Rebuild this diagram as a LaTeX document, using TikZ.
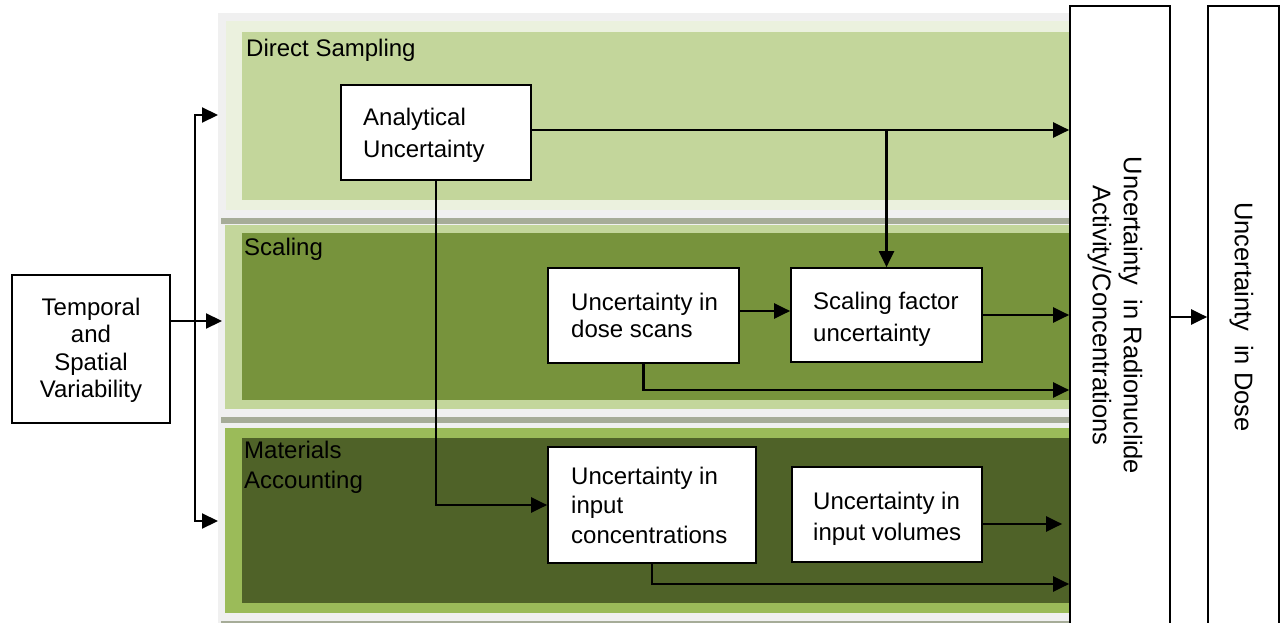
\documentclass[tikz,border=0pt]{standalone}
\usepackage{fontspec}
\setmainfont{Liberation Sans}
\usetikzlibrary{arrows.meta,calc}
\definecolor{bggray}{HTML}{F0F0F0}
\definecolor{dsband}{HTML}{EBF1DE}
\definecolor{dsin}{HTML}{C3D69B}
\definecolor{sepgray}{HTML}{A6AC98}
\definecolor{scband}{HTML}{C3D69B}
\definecolor{scin}{HTML}{77933C}
\definecolor{maband}{HTML}{9BBB59}
\definecolor{main}{HTML}{4F6228}
\begin{document}
\begin{tikzpicture}[x=1pt,y=-1pt,
  arr/.style={line width=2.2pt,-{Triangle[length=16pt,width=15pt]}},
  box/.style={draw=black,line width=1.7pt,fill=white,inner sep=0pt},
  txt/.style={inner sep=0pt,anchor=north west,align=left},
  rot/.style={inner sep=0pt,anchor=north,align=center,rotate=-90}]
\useasboundingbox (0,0) rectangle (1282,623);
% panels
\fill[bggray] (218,13) rectangle (1070,623);
\fill[dsband] (226,21) rectangle (1070,210);
\fill[dsin] (242,32) rectangle (1070,200);
\fill[sepgray] (221,218) rectangle (1070,224);
\fill[scband] (225,225) rectangle (1070,409);
\fill[scin] (242,233) rectangle (1070,400);
\fill[sepgray] (221,417) rectangle (1070,423);
\fill[maband] (225,428) rectangle (1070,613);
\fill[main] (242,438) rectangle (1070,603);
\fill[sepgray] (221,621) rectangle (1070,623);
% panel labels
\node[txt,font=\fontsize{24}{29}\selectfont] (lds) at (246,39) {Direct Sampling};
\node[txt,font=\fontsize{24}{29}\selectfont] (lsc) at (244,238) {Scaling};
\node[txt,font=\fontsize{24}{30}\selectfont] (lma) at (244,441) {Materials\\Accounting};
% boxes
\node[box,minimum width=158pt,minimum height=148pt] (temp) at (91,349) {};
\node[box,minimum width=190pt,minimum height=95pt] (au) at (436,132.5) {};
\node[box,minimum width=191pt,minimum height=95pt] (ds) at (643.5,315.5) {};
\node[box,minimum width=191pt,minimum height=94pt] (sf) at (886.5,315) {};
\node[box,minimum width=208pt,minimum height=116pt] (ic) at (652,505) {};
\node[box,minimum width=190pt,minimum height=95pt] (iv) at (887,514.5) {};
\node[box,minimum width=100pt,minimum height=654pt] (rad) at (1120,333) {};
\node[box,minimum width=71pt,minimum height=654pt] (dose) at (1243.5,333) {};
% box texts
\node[inner sep=0pt,anchor=north,align=center,font=\fontsize{24}{27.3}\selectfont] (ttemp) at (91,298) {Temporal\\and\\Spatial\\Variability};
\node[txt,font=\fontsize{24}{32}\selectfont] (tau) at (363,108) {Analytical\\Uncertainty};
\node[txt,font=\fontsize{24}{27}\selectfont] (tds) at (571,292.5) {Uncertainty in\\dose scans};
\node[txt,font=\fontsize{24}{32}\selectfont] (tsf) at (813,291.5) {Scaling factor\\uncertainty};
\node[txt,font=\fontsize{24}{29.5}\selectfont] (tic) at (571,466.5) {Uncertainty in\\input\\concentrations};
\node[txt,font=\fontsize{24}{31}\selectfont] (tiv) at (813,491.5) {Uncertainty in\\input volumes};
\node[rot,font=\fontsize{25.5}{31}\selectfont] (trad) at (1142.5,315.5) {Uncertainty~ in Radionuclide\\Activity/Concentrations};
\node[rot,font=\fontsize{25.5}{31}\selectfont] (tdose) at (1253.5,317) {Uncertainty~ in Dose};
% helper levels
\coordinate (yA) at (0,130);
\coordinate (yB) at (0,311);
\coordinate (yC) at (0,315);
\coordinate (yD) at (0,390);
\coordinate (yE) at (0,524);
\coordinate (yF) at (0,584);
\coordinate (yG) at (0,317);
\coordinate (split) at (195,321);
\coordinate (inDS) at (218,115);
\coordinate (inSC) at (222,321);
\coordinate (inMA) at (218,521);
% connectors
\draw[arr] (temp.east |- inSC) -- (inSC);
\draw[arr] (split) |- (inDS);
\draw[arr] (split) |- (inMA);
\draw[arr] (au.east |- yA) -- (rad.west |- yA);
\draw[arr] (sf.north |- yA) -- (sf.north);
\draw[arr] (ds.east |- yB) -- (sf.west |- yB);
\draw[arr] (sf.east |- yC) -- (rad.west |- yC);
\draw[arr] (ds.south) |- (rad.west |- yD);
\draw[arr] (au.south) |- (ic.west);
\draw[arr,shorten >=7pt] (iv.east |- yE) -- (rad.west |- yE);
\draw[arr] (ic.south) |- (rad.west |- yF);
\draw[arr] (rad.east |- yG) -- (dose.west |- yG);
\end{tikzpicture}
\end{document}
